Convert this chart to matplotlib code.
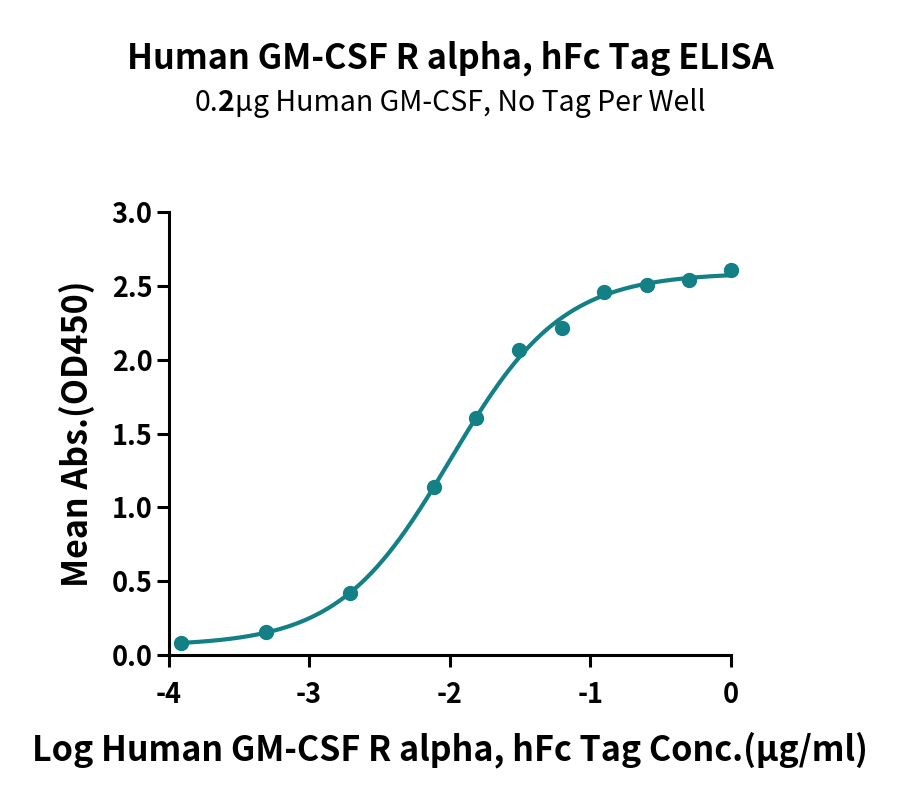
import numpy as np
import matplotlib
matplotlib.use("Agg")
import matplotlib.pyplot as plt

plt.rcParams['font.family'] = ['Noto Sans CJK SC', 'DejaVu Sans']

# log10 concentration (ug/ml) and mean OD450
log_conc = [-3.91, -3.31, -2.71, -2.11, -1.81, -1.51, -1.20, -0.90, -0.60, -0.30, 0.0]
od450 = [0.083, 0.154, 0.417, 1.135, 1.608, 2.068, 2.215, 2.458, 2.503, 2.537, 2.605]

x_ticks = [-4, -3, -2, -1, 0]
x_tick_labels = ["-4", "-3", "-2", "-1", "0"]
y_ticks = [0.0, 0.5, 1.0, 1.5, 2.0, 2.5, 3.0]
y_tick_labels = ["0.0", "0.5", "1.0", "1.5", "2.0", "2.5", "3.0"]

teal = "#138086"


def four_pl(x, p):
    bottom, top, logec50, hill = p
    return bottom + (top - bottom) / (1 + 10 ** ((logec50 - x) * hill))


# small gauss-newton fit of the 4PL curve to the points
xd = np.array(log_conc)
yd = np.array(od450)
p = np.array([0.05, 2.6, -2.0, 1.0])
for _ in range(100):
    r = yd - four_pl(xd, p)
    J = np.zeros((len(xd), 4))
    for k in range(4):
        dp = np.zeros(4)
        dp[k] = 1e-6
        J[:, k] = (four_pl(xd, p + dp) - four_pl(xd, p)) / 1e-6
    step = np.linalg.lstsq(J, r, rcond=None)[0]
    p = p + step
    if np.abs(step).max() < 1e-10:
        break

xs = np.linspace(min(log_conc), max(log_conc), 300)

fig = plt.figure(figsize=(9, 8.02), dpi=100)
ax = fig.add_axes([168.5 / 900, 1 - 655 / 802, (731 - 168.5) / 900, (655 - 212) / 802])

ax.plot(xs, four_pl(xs, p), color=teal, lw=3, solid_capstyle="round", clip_on=False)
ax.plot(log_conc, od450, "o", color=teal, ms=10, clip_on=False)

ax.set_xlim(-4, 0)
ax.set_ylim(0, 3.0)
ax.set_xticks(x_ticks)
ax.set_xticklabels(x_tick_labels)
ax.set_yticks(y_ticks)
ax.set_yticklabels(y_tick_labels)
for lab in ax.get_xticklabels() + ax.get_yticklabels():
    lab.set_fontweight("bold")
    lab.set_fontsize(19.5)
ax.tick_params(axis="x", length=8.5, width=2.2, pad=10)
ax.tick_params(axis="y", length=8.5, width=2.2, pad=3)

for side in ["top", "right"]:
    ax.spines[side].set_visible(False)
for side in ["left", "bottom"]:
    ax.spines[side].set_linewidth(2.2)
    ax.spines[side].set_capstyle("projecting")

ax.set_xlabel("Log Human GM-CSF R alpha, hFc Tag Conc.(μg/ml)", fontsize=24.5, fontweight="bold", labelpad=16)
ax.set_ylabel("Mean Abs.(OD450)", fontsize=24.5, fontweight="bold", labelpad=12)

fig.text(0.5, 1 - 58 / 802, "Human GM-CSF R alpha, hFc Tag ELISA", ha="center", va="center",
         fontsize=24.7, fontweight="bold")

# subtitle, the "2" is bold in the original
sub_y = 1 - 111 / 802
t1 = fig.text(0.0, sub_y, "0.", ha="left", va="baseline", fontsize=20.5)
t2 = fig.text(0.0, sub_y, "2", ha="left", va="baseline", fontsize=20.5, fontweight="bold")
t3 = fig.text(0.0, sub_y, "μg Human GM-CSF, No Tag Per Well", ha="left", va="baseline", fontsize=20.5)
renderer = fig.canvas.get_renderer()
widths = [t.get_window_extent(renderer).width / 900 for t in (t1, t2, t3)]
x0 = 0.5 - sum(widths) / 2
for t, w in zip((t1, t2, t3), widths):
    t.set_x(x0)
    x0 += w

fig.savefig("out.png", dpi=100)
